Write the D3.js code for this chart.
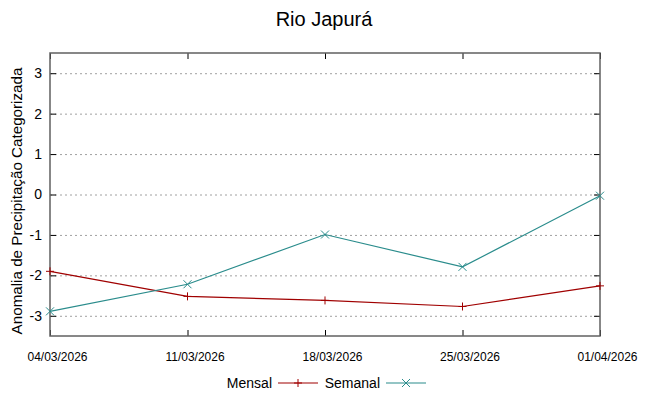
<!DOCTYPE html>
<html>
<head>
<meta charset="utf-8">
<script src="https://cdn.jsdelivr.net/npm/d3@7"></script>
<style>
  body { margin: 0; background: #fff; }
  svg { display: block; }
</style>
</head>
<body>
<div id="chart"></div>
<script>
const dates = ["04/03/2026", "11/03/2026", "18/03/2026", "25/03/2026", "01/04/2026"]
const mensal = [-1.9, -2.52, -2.62, -2.77, -2.26]
const semanal = [-2.89, -2.22, -0.99, -1.79, -0.03]
const yTicks = [-3, -2, -1, 0, 1, 2, 3]

const W = 648, H = 396
const m = { left: 50, right: 48, top: 53, bottom: 60 }
const parse = d3.timeParse("%d/%m/%Y")
const fmt = d3.timeFormat("%d/%m/%Y")
const xDates = dates.map(parse)

const svg = d3.select("#chart").append("svg")
    .attr("width", W)
    .attr("height", H)

const x = d3.scaleTime()
    .domain(d3.extent(xDates))
    .range([m.left, W - m.right])
const y = d3.scaleLinear()
    .domain([-3.5, 3.5])
    .range([H - m.bottom, m.top])

// grid
svg.append("g")
    .selectAll("line")
    .data(yTicks)
    .enter()
    .append("line")
    .attr("x1", m.left)
    .attr("x2", W - m.right)
    .attr("y1", d => y(d) + 0.5)
    .attr("y2", d => y(d) + 0.5)
    .attr("stroke", "#a0a0a0")
    .attr("stroke-width", 1)
    .attr("stroke-dasharray", "2,3")

// axes, ticks pointing inward, mirrored (plain hyphen for negatives, like gnuplot)
const axLeft = svg.append("g")
    .attr("transform", `translate(${m.left},0)`)
    .call(d3.axisLeft(y).tickValues(yTicks).tickSize(-6).tickPadding(8).tickFormat(d => String(d)))
const axRight = svg.append("g")
    .attr("transform", `translate(${W - m.right},0)`)
    .call(d3.axisRight(y).tickValues(yTicks).tickSize(-6).tickFormat(""))
const axBottom = svg.append("g")
    .attr("transform", `translate(0,${H - m.bottom})`)
    .call(d3.axisBottom(x).tickValues(xDates).tickSize(-6).tickPadding(16).tickFormat(fmt))
const axTop = svg.append("g")
    .attr("transform", `translate(0,${m.top})`)
    .call(d3.axisTop(x).tickValues(xDates).tickSize(-6).tickFormat(""))

;[axLeft, axRight, axBottom, axTop].forEach(g => {
    g.select(".domain").remove()
    g.selectAll("line").attr("stroke", "#000")
})
axLeft.selectAll("text")
    .attr("font-family", "Liberation Sans, Arial, sans-serif")
    .attr("font-size", 14)
    .attr("fill", "#000")
axBottom.selectAll("text")
    .attr("x", 7)
    .attr("font-family", "Liberation Sans Narrow, Liberation Sans, sans-serif")
    .attr("font-size", 12)
    .attr("fill", "#000")

// frame
svg.append("rect")
    .attr("x", m.left)
    .attr("y", m.top)
    .attr("width", W - m.left - m.right)
    .attr("height", H - m.top - m.bottom)
    .attr("fill", "none")
    .attr("stroke", "#606060")
    .attr("stroke-width", 1.5)

const line = d3.line()
    .x((d, i) => x(xDates[i]))
    .y(d => y(d))

const series = [
    { name: "Mensal", values: mensal, color: "#a00000", mark: "plus" },
    { name: "Semanal", values: semanal, color: "#2a8c8c", mark: "cross" }
]

const marker = (g, type, cx, cy, color) => {
    const s = 4
    const segs = type === "plus"
        ? [[cx - s, cy, cx + s, cy], [cx, cy - s, cx, cy + s]]
        : [[cx - s, cy - s, cx + s, cy + s], [cx - s, cy + s, cx + s, cy - s]]
    segs.forEach(p => {
        g.append("line")
            .attr("x1", p[0]).attr("y1", p[1])
            .attr("x2", p[2]).attr("y2", p[3])
            .attr("stroke", color)
            .attr("stroke-width", 1)
    })
}

series.forEach(s => {
    const g = svg.append("g")
    g.append("path")
        .attr("d", line(s.values))
        .attr("fill", "none")
        .attr("stroke", s.color)
        .attr("stroke-width", 1.2)
    s.values.forEach((v, i) => marker(g, s.mark, x(xDates[i]), y(v), s.color))
})

// title
svg.append("text")
    .attr("x", W / 2)
    .attr("y", 26)
    .attr("text-anchor", "middle")
    .attr("font-family", "Liberation Sans, Arial, sans-serif")
    .attr("font-size", 20)
    .text("Rio Japurá")

// y label
svg.append("text")
    .attr("transform", `translate(22,201) rotate(-90)`)
    .attr("text-anchor", "middle")
    .attr("font-family", "Liberation Sans, Arial, sans-serif")
    .attr("font-size", 15.2)
    .text("Anomalia de Precipitação Categorizada")

// legend
const legend = svg.append("g").attr("transform", `translate(0,383)`)
const legendItems = [
    { textEnd: 272, x0: 278, x1: 318 },
    { textEnd: 380, x0: 386, x1: 426 }
]
series.forEach((s, i) => {
    const li = legendItems[i]
    legend.append("text")
        .attr("x", li.textEnd)
        .attr("y", 5)
        .attr("text-anchor", "end")
        .attr("font-family", "Liberation Sans Narrow, Liberation Sans, sans-serif")
        .attr("font-size", 14)
        .text(s.name)
    legend.append("line")
        .attr("x1", li.x0).attr("x2", li.x1)
        .attr("y1", 0).attr("y2", 0)
        .attr("stroke", s.color)
        .attr("stroke-width", 1.2)
    marker(legend, s.mark, (li.x0 + li.x1) / 2, 0, s.color)
})
</script>
</body>
</html>
